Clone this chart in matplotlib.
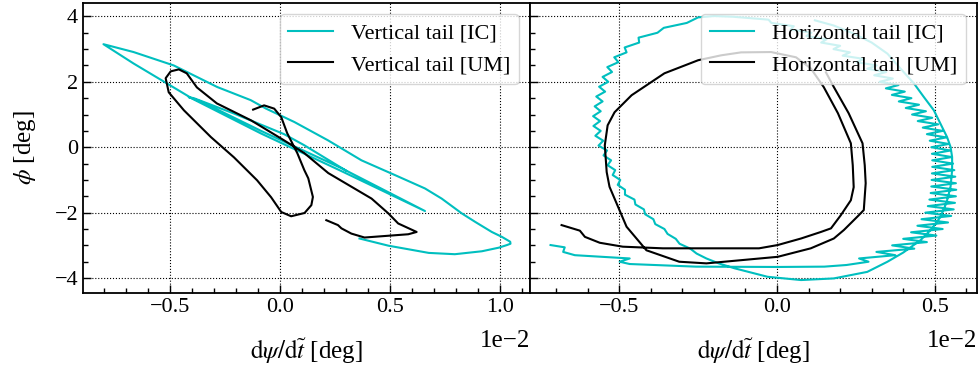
import numpy as np
from matplotlib import pyplot as plt
from matplotlib.ticker import MultipleLocator

plt.rcParams['font.family'] = 'serif'
plt.rcParams['font.serif'] = ['Liberation Serif', 'DejaVu Serif']
plt.rcParams['mathtext.fontset'] = 'stix'
plt.rcParams['font.size'] = 16

# x values below are in units of 1e-2 deg, y in deg

# vertical tail, IC
vt_ic_x = [0.361, 0.493, 0.676, 0.795, 0.918, 0.995, 1.032, 1.048, 1.047, 1.009, 0.963, 0.887,
           0.826, 0.735, 0.659, 0.522, 0.370, 0.218, 0.065, -0.064, -0.134, -0.286, -0.484,
           -0.667, -0.804, -0.667, -0.515, -0.393, -0.087, 0.279, 0.659, 0.279, -0.087, -0.361,
           -0.416, -0.393, -0.21, 0.018, 0.11, 0.301]
vt_ic_y = [-2.79, -3.01, -3.23, -3.27, -3.18, -3.07, -2.99, -2.95, -2.89, -2.74, -2.59, -2.28,
           -2.02, -1.57, -1.26, -0.85, -0.40, 0.21, 0.77, 1.18, 1.44, 1.84, 2.50,
           2.91, 3.15, 2.56, 1.95, 1.46, 0.42, -0.73, -1.95, -0.64, 0.50, 1.40,
           1.53, 1.50, 1.03, 0.40, 0.06, -0.72]

# vertical tail, UM
vt_um_x = [-0.123, -0.073, -0.027, 0.005, 0.032, 0.078, 0.110, 0.128, 0.149, 0.142, 0.111, 0.050,
           0.005, -0.041, -0.105, -0.210, -0.315, -0.438, -0.507, -0.521, -0.498, -0.461, -0.425,
           -0.379, -0.288, -0.132, 0.018, 0.110, 0.219, 0.416, 0.492, 0.537, 0.621, 0.583, 0.384,
           0.324, 0.279, 0.263, 0.210]
vt_um_y = [1.15, 1.28, 1.18, 0.92, 0.43, -0.18, -0.70, -0.95, -1.52, -1.77, -2.01, -2.11,
           -1.98, -1.53, -1.01, -0.31, 0.31, 1.13, 1.68, 2.11, 2.32, 2.38, 2.26,
           1.83, 1.34, 0.82, 0.21, -0.18, -0.79, -1.57, -2.02, -2.33, -2.59, -2.66, -2.76,
           -2.64, -2.48, -2.38, -2.23]

# horizontal tail, IC (start, oscillating right side, top, oscillating left side, lower loop)
ht_ic_x = [-0.718, -0.673, -0.678, -0.641, -0.467, -0.499, -0.467, -0.257, 0.0, 0.15, 0.22,
           0.29, 0.26, 0.375, 0.315, 0.435, 0.365, 0.475, 0.40, 0.505, 0.425, 0.525, 0.445,
           0.542, 0.458, 0.552, 0.47, 0.56, 0.478, 0.564, 0.483, 0.567, 0.487, 0.568, 0.489,
           0.567, 0.49, 0.565, 0.491, 0.562, 0.492, 0.558, 0.492, 0.554, 0.491, 0.55, 0.489,
           0.544, 0.484, 0.536, 0.475, 0.525, 0.462, 0.511, 0.446, 0.492, 0.428, 0.472, 0.408,
           0.45, 0.386, 0.426, 0.364, 0.405, 0.345, 0.385, 0.325,
           0.367, 0.308, 0.346, 0.286, 0.316, 0.252, 0.275, 0.208, 0.231, 0.179, 0.20, 0.14,
           0.157, 0.093, 0.109, 0.043, 0.053, -0.018, -0.027,
           -0.09, -0.14, -0.20, -0.25,
           -0.286, -0.359, -0.379, -0.439, -0.437, -0.483, -0.477, -0.516, -0.503, -0.538,
           -0.523, -0.553, -0.535, -0.564, -0.545, -0.573, -0.553, -0.578, -0.559, -0.583,
           -0.561, -0.582, -0.559, -0.576, -0.551, -0.566, -0.539, -0.55, -0.526, -0.537,
           -0.513, -0.521, -0.497, -0.505, -0.482, -0.482, -0.452, -0.449, -0.422, -0.418,
           -0.392, -0.386, -0.357, -0.347, -0.321, -0.309, -0.275, -0.255, -0.224, -0.185,
           -0.152,
           -0.135, -0.03, 0.076, 0.18, 0.286, 0.35, 0.40, 0.455, 0.49, 0.518, 0.537, 0.55,
           0.555, 0.555, 0.55, 0.539, 0.518, 0.497, 0.465, 0.434, 0.39, 0.35, 0.30, 0.244,
           0.18, 0.12]
ht_ic_y = [-2.99, -3.06, -3.20, -3.30, -3.40, -3.50, -3.57, -3.65, -3.66, -3.65, -3.60,
           -3.5, -3.4, -3.3, -3.2, -3.1, -3.0, -2.9, -2.8, -2.7, -2.6, -2.5, -2.4,
           -2.3, -2.2, -2.1, -2.0, -1.9, -1.8, -1.7, -1.6, -1.5, -1.4, -1.3, -1.2,
           -1.1, -1.0, -0.9, -0.8, -0.7, -0.6, -0.5, -0.4, -0.3, -0.2, -0.1, 0.0,
           0.1, 0.2, 0.3, 0.4, 0.5, 0.6, 0.7, 0.8, 0.9, 1.0, 1.1, 1.2,
           1.3, 1.4, 1.5, 1.6, 1.7, 1.8, 1.9, 2.0,
           2.1, 2.2, 2.3, 2.4, 2.5, 2.6, 2.7, 2.8, 2.9, 3.0, 3.1, 3.2,
           3.3, 3.4, 3.5, 3.6, 3.7, 3.8, 3.9,
           3.95, 3.99, 4.01, 3.97,
           3.8, 3.65, 3.5, 3.35, 3.2, 3.05, 2.9, 2.75, 2.6, 2.45,
           2.3, 2.15, 2.0, 1.85, 1.7, 1.55, 1.4, 1.25, 1.1, 0.95,
           0.8, 0.65, 0.5, 0.35, 0.2, 0.05, -0.1, -0.25, -0.4, -0.55,
           -0.7, -0.85, -1.0, -1.15, -1.3, -1.45, -1.6, -1.75, -1.9, -2.05,
           -2.2, -2.35, -2.5, -2.65, -2.8, -2.95, -3.1, -3.25, -3.4, -3.55,
           -3.65,
           -3.70, -3.96, -4.06, -4.01, -3.81, -3.5, -3.22, -2.84, -2.5, -2.13, -1.7, -1.21,
           -0.7, -0.30, 0.01, 0.31, 0.72, 1.13, 1.54, 1.95, 2.42, 2.86, 3.2, 3.47,
           3.72, 3.88]

# horizontal tail, UM
ht_um_x = [-0.683, -0.625, -0.609, -0.562, -0.489, -0.362, -0.057, 0.002, 0.076, 0.139, 0.171,
           0.202, 0.234, 0.243, 0.240, 0.234, 0.193, 0.148, 0.107, 0.060, -0.019, -0.114, -0.177,
           -0.250, -0.357, -0.461, -0.515, -0.537, -0.546, -0.540, -0.531, -0.477, -0.414, -0.310,
           -0.224, -0.145, 0.002, 0.107, 0.180, 0.212, 0.259, 0.275, 0.281, 0.278, 0.271, 0.227,
           0.180, 0.155]
ht_um_y = [-2.38, -2.55, -2.74, -2.92, -3.04, -3.09, -3.09, -2.99, -2.79, -2.59, -2.48,
           -2.08, -1.62, -1.22, -0.55, 0.12, 1.04, 1.84, 2.41, 2.75, 2.91, 2.90, 2.81,
           2.66, 2.26, 1.59, 1.07, 0.67, 0.06, -0.76, -1.21, -2.43, -3.15, -3.50,
           -3.55, -3.48, -3.35, -3.09, -2.79, -2.53, -2.08, -1.92, -1.10, -0.55, 0.12, 1.04,
           1.84, 2.29]

panels = [
    (vt_ic_x, vt_ic_y, vt_um_x, vt_um_y, 'Vertical tail', (-0.897, 1.137)),
    (ht_ic_x, ht_ic_y, ht_um_x, ht_um_y, 'Horizontal tail', (-0.783, 0.634)),
]

fig, axes = plt.subplots(1, 2, figsize=(9.79, 3.72), dpi=100, sharey=True)
fig.subplots_adjust(left=0.0848, right=0.998, bottom=0.212, top=0.992, wspace=0)

for ax, (icx, icy, umx, umy, name, xl) in zip(axes, panels):
    ax.plot(np.array(icx) * 1e-2, icy, color='c', lw=1.5, label=name + ' [IC]')
    ax.plot(np.array(umx) * 1e-2, umy, color='k', lw=1.5, label=name + ' [UM]')
    ax.set_xlim(xl[0] * 1e-2, xl[1] * 1e-2)
    ax.set_ylim(-4.46, 4.41)
    ax.xaxis.set_major_locator(MultipleLocator(0.005))
    ax.xaxis.set_minor_locator(MultipleLocator(0.001))
    ax.yaxis.set_major_locator(MultipleLocator(2))
    ax.yaxis.set_minor_locator(MultipleLocator(0.5))
    ax.ticklabel_format(axis='x', style='sci', scilimits=(-2, -2))
    ax.xaxis.get_offset_text().set_visible(False)
    ax.tick_params(which='both', direction='in', width=1)
    ax.tick_params(which='major', length=6)
    ax.tick_params(which='minor', length=3.5)
    ax.grid(True, which='major', linestyle=':', color='k', lw=0.8)
    for s in ax.spines.values():
        s.set_linewidth(1.3)
    ax.set_xlabel(r'$\mathrm{d}\psi/\mathrm{d}\tilde{t}$ [deg]', fontsize=18, labelpad=14)
    ax.legend(loc='upper right')
    # scale factor written below the right end of the axis
    ax.text(1.0, -0.165, '1e\u22122', transform=ax.transAxes, ha='right', va='center',
            fontsize=18)

axes[0].set_ylabel(r'$\phi$ [deg]', fontsize=18, labelpad=12)

plt.savefig('out.png', dpi=100)
